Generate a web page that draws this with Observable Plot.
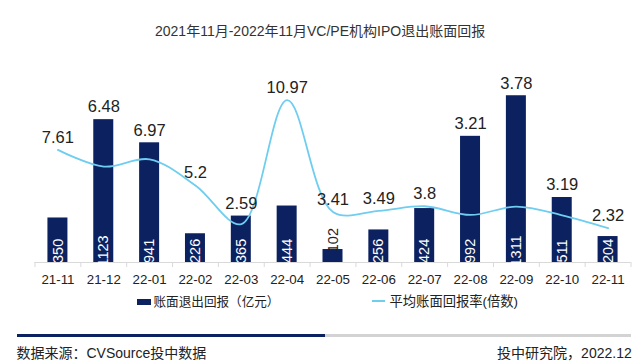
<!DOCTYPE html>
<html>
<head>
<meta charset="utf-8">
<script src="https://cdn.jsdelivr.net/npm/d3@7"></script>
<script src="https://cdn.jsdelivr.net/npm/@observablehq/plot@0.6"></script>
<style>
  html, body { margin: 0; padding: 0; background: #fff; }
  #wrap { position: relative; width: 640px; height: 364px; overflow: hidden; background: #fff;
    font-family: "Liberation Sans", Arial, "Noto Sans CJK SC", sans-serif; color: #222; }
  .abs { position: absolute; white-space: nowrap; }
  #plot { position: absolute; left: 0; top: 45px; }
</style>
</head>
<body>
<div id="wrap">
  <div class="abs" id="title" style="left:155px; top:21px; font-size:14px; line-height:20px; color:#333;">2021年11月-2022年11月VC/PE机构IPO退出账面回报</div>
  <div id="plot"></div>
  <div class="abs" style="left:137px; top:298.5px; width:13.5px; height:6px; background:#0b2160;"></div>
  <div class="abs" style="left:153.5px; top:291.7px; font-size:12.6px; line-height:20px; color:#222;">账面退出回报（亿元）</div>
  <div class="abs" style="left:371.5px; top:300px; width:13.5px; height:1.8px; background:#6fcdf0;"></div>
  <div class="abs" style="left:389.5px; top:291.7px; font-size:13.3px; line-height:20px; color:#222;">平均账面回报率(倍数)</div>
  <div class="abs" style="left:16.5px; top:334.2px; width:308.5px; height:3px; background:#0b2160;"></div>
  <div class="abs" style="left:325px; top:334.2px; width:306px; height:3px; background:#d3d3d3;"></div>
  <div class="abs" style="left:16.5px; top:343.3px; font-size:14px; line-height:20px; color:#222;">数据来源：CVSource投中数据</div>
  <div class="abs" style="right:8.3px; top:343.3px; font-size:14px; line-height:20px; color:#222;">投中研究院，2022.12</div>
</div>
<script>
const categories = ["21-11","21-12","22-01","22-02","22-03","22-04","22-05","22-06","22-07","22-08","22-09","22-10","22-11"];
const exitReturn = [350, 1123, 941, 226, 365, 444, 102, 256, 424, 992, 1311, 511, 204];
const avgMultiple = [7.61, 6.48, 6.97, 5.2, 2.59, 10.97, 3.41, 3.49, 3.8, 3.21, 3.78, 3.19, 2.32];

// ratio between the secondary (multiple) axis and the primary (亿元) axis
const RATE_TO_BAR = 116.4;
const BAR_HALF = 0.218;
const SMALL_BAR = 150; // labels of bars shorter than this sit on top of the bar
const NAVY = "#0b2160";
const SKY = "#6fcdf0";

const data = categories.map((c, i) => ({i, cat: c, bar: exitReturn[i], rate: avgMultiple[i]}));
const bigBars = data.filter(d => d.bar >= SMALL_BAR);
const smallBars = data.filter(d => d.bar < SMALL_BAR);

const chart = Plot.plot({
  width: 640,
  height: 245,
  marginTop: 0,
  marginBottom: 28,
  marginLeft: 34.5,
  marginRight: 9.5,
  style: {fontFamily: '"Liberation Sans", Arial, "Noto Sans CJK SC", sans-serif', background: "transparent", overflow: "visible"},
  x: {domain: [-0.5, categories.length - 0.5], label: null},
  y: {domain: [0, 1706], axis: null},
  marks: [
    Plot.rectY(data, {x1: d => d.i - BAR_HALF, x2: d => d.i + BAR_HALF, y: "bar", fill: NAVY}),
    Plot.ruleY([0], {stroke: "#d9d9d9"}),
    Plot.axisX({ticks: d3.range(-0.5, categories.length, 1), tickSize: 5, tickFormat: () => "", stroke: "#d9d9d9", label: null}),
    Plot.axisX({ticks: d3.range(0, categories.length), tickSize: 0, tickPadding: 12.5,
      tickFormat: i => categories[i], fontSize: 13.3, fill: "#222", label: null}),
    Plot.text(bigBars, {x: "i", y: () => 0, text: d => String(d.bar), rotate: -90, dy: -11.6,
      fill: "white", fontSize: 14.5}),
    Plot.text(smallBars, {x: "i", y: "bar", text: d => String(d.bar), rotate: -90, dy: 2.7,
      textAnchor: "start", fill: "#222", fontSize: 14.5}),
    Plot.line(data, {x: "i", y: d => d.rate * RATE_TO_BAR, stroke: SKY, strokeWidth: 1.8, curve: "catmull-rom"}),
    Plot.text(data, {x: "i", y: d => Math.max(d.bar, d.rate * RATE_TO_BAR), text: d => String(d.rate),
      dy: -12.5, fontSize: 16.5, fill: "#222"})
  ]
});
document.getElementById("plot").appendChild(chart);
</script>
</body>
</html>
